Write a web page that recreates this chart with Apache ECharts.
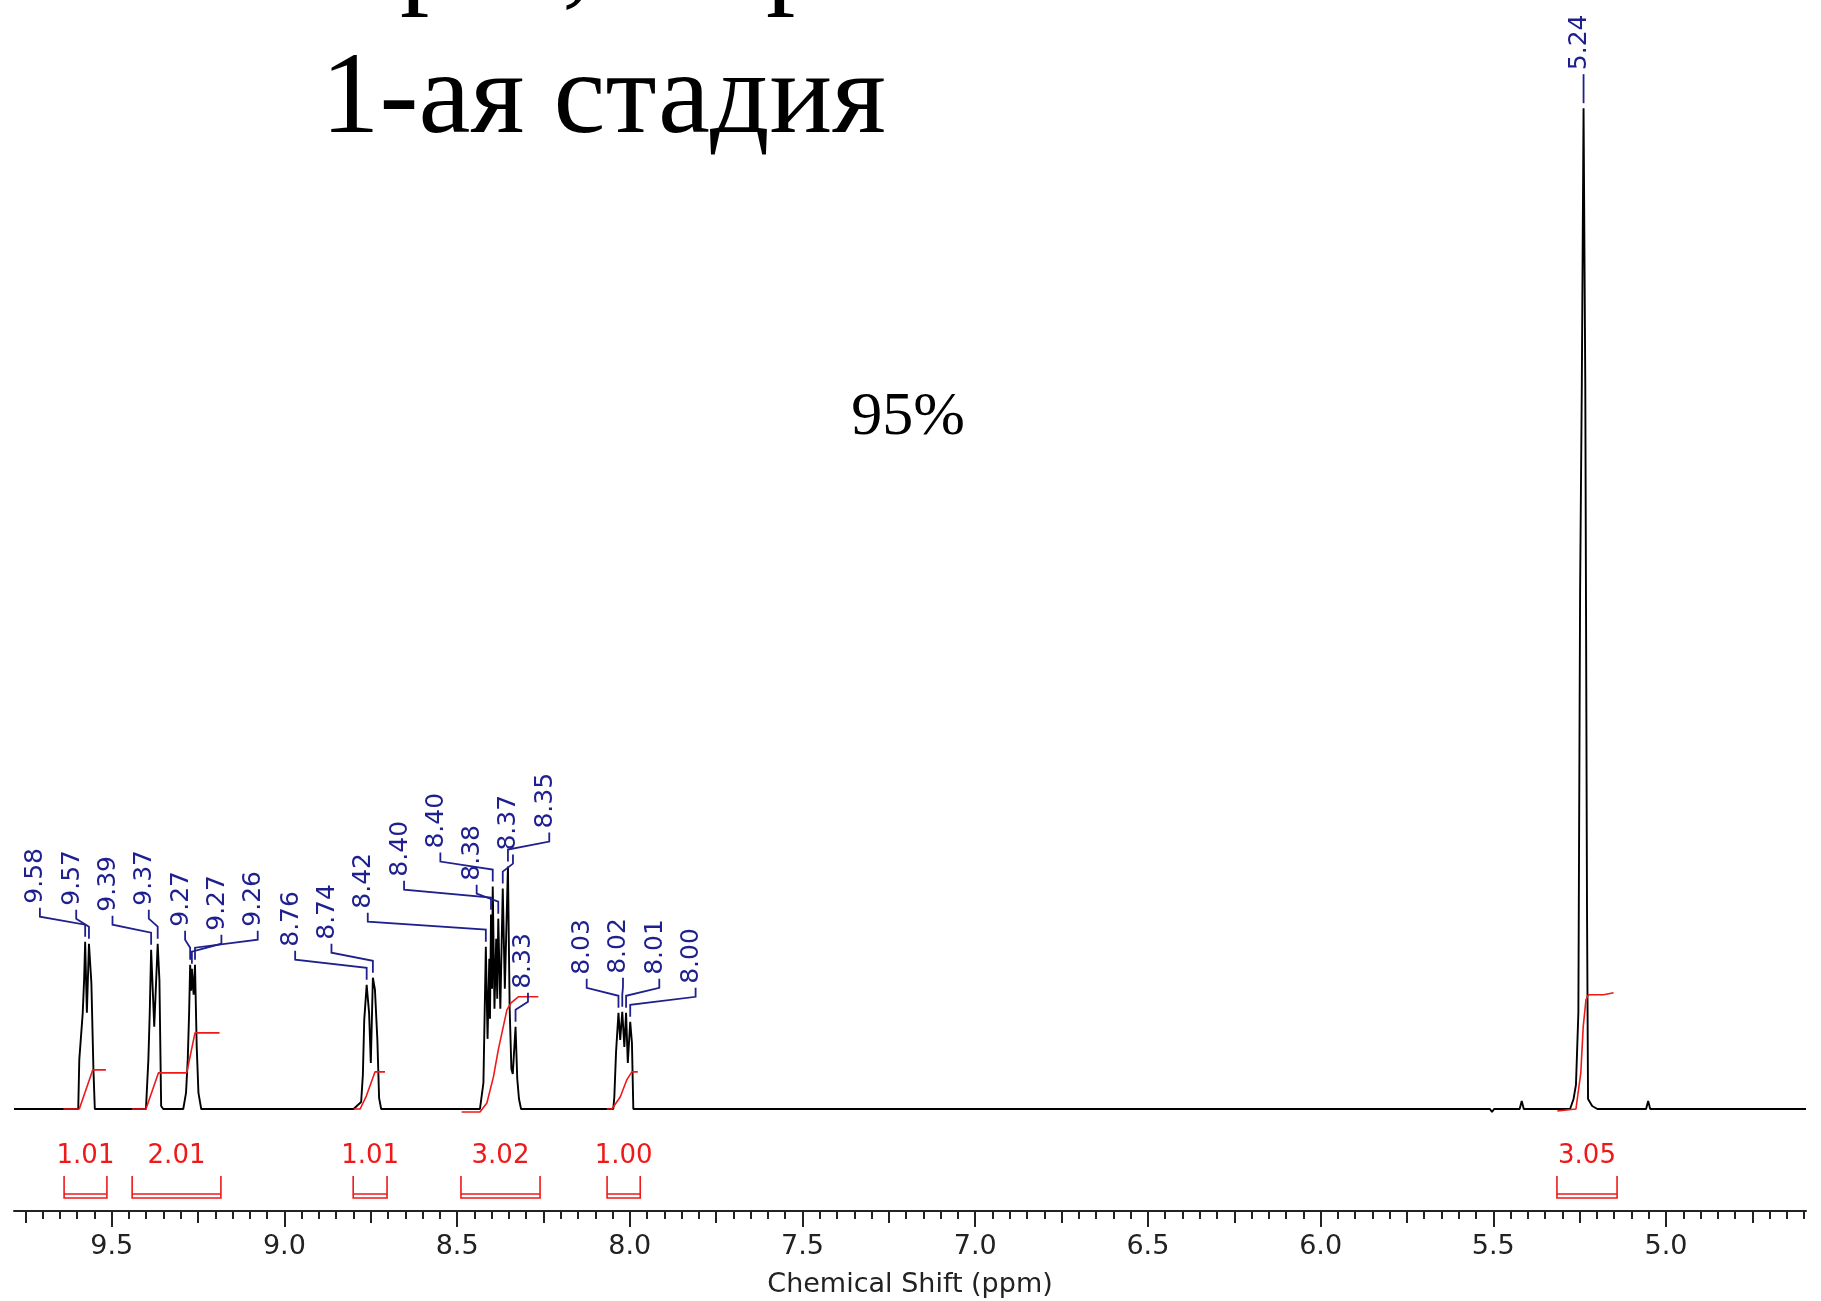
<!DOCTYPE html>
<html>
<head>
<meta charset="utf-8">
<title>1-ая стадия</title>
<script src="https://cdn.jsdelivr.net/npm/echarts@6/dist/echarts.min.js"></script>
<style>
  html, body { margin: 0; padding: 0; background: #fff; }
  #chart { width: 1821px; height: 1301px; }
</style>
</head>
<body>
<div id="chart"></div>
<script>
// 1H NMR trace, [ppm, intensity]
const baseline = [[9.783, 0], [4.595, 0]];
const m958 = [[9.597, 0], [9.594, 4.9], [9.584, 9.6], [9.580, 12.9], [9.577, 16.7], [9.572, 9.6],
  [9.566, 16.5], [9.559, 12.6], [9.553, 3.9], [9.549, 0]];
const m938 = [[9.401, 0], [9.394, 4.9], [9.390, 9.6], [9.386, 15.9], [9.377, 8.2], [9.367, 16.5],
  [9.362, 12.9], [9.357, 0.3], [9.351, 0]];
const m927 = [[9.293, 0], [9.285, 1.6], [9.280, 4.9], [9.276, 9.6], [9.273, 14.4], [9.270, 11.8],
  [9.268, 14.0], [9.263, 11.4], [9.259, 14.4], [9.254, 6.2], [9.249, 1.6], [9.241, 0]];
const m875 = [[8.800, 0], [8.778, 0.7], [8.773, 3.4], [8.769, 8.9], [8.762, 12.4], [8.755, 9.6],
  [8.750, 4.6], [8.744, 13.1], [8.738, 11.9], [8.731, 6.9], [8.726, 1.1], [8.720, 0]];
const m838 = [[8.434, 0], [8.424, 2.6], [8.417, 16.2], [8.412, 7], [8.407, 15], [8.405, 9],
  [8.402, 19.4], [8.399, 12], [8.397, 22.2], [8.392, 10], [8.387, 17], [8.384, 11], [8.381, 19.0],
  [8.375, 10], [8.368, 22.0], [8.362, 12], [8.353, 24.2], [8.348, 10], [8.343, 4], [8.339, 3.5],
  [8.331, 8.2], [8.326, 3], [8.321, 1], [8.315, 0]];
const m802 = [[8.048, 0], [8.045, 1.2], [8.040, 5.7], [8.033, 9.6], [8.028, 6.9], [8.022, 9.7],
  [8.016, 6.2], [8.011, 9.6], [8.006, 4.6], [7.999, 8.7], [7.994, 6.6], [7.990, 0]];
const m524 = [[5.278, 0], [5.268, 1.0], [5.261, 2.4], [5.254, 9.6], [5.249, 51.6], [5.244, 72.5],
  [5.239, 99.9], [5.234, 72.5], [5.229, 20], [5.226, 1.0], [5.214, 0.3], [5.199, 0]];
const bumps = [[5.510, 0], [5.504, -0.3], [5.498, 0], [5.424, 0], [5.418, 0.8], [5.412, 0],
  [5.058, 0], [5.052, 0.8], [5.046, 0]];

// integral curves (red), [ppm, level]
const intg1 = [[9.640, 0], [9.594, 0], [9.555, 3.9], [9.517, 3.9]];
const intg2 = [[9.442, 0], [9.401, 0], [9.365, 3.6], [9.283, 3.6], [9.259, 7.6], [9.188, 7.6]];
const intg3 = [[8.800, 0], [8.781, 0], [8.764, 1.2], [8.738, 3.7], [8.709, 3.7]];
const intg4 = [[8.487, -0.3], [8.434, -0.3], [8.414, 0.6], [8.395, 3.2], [8.381, 5.9], [8.356, 9.9],
  [8.344, 10.6], [8.323, 11.2], [8.265, 11.2]];
const intg5 = [[8.067, 0], [8.052, 0], [8.028, 1.2], [8.009, 2.9], [7.994, 3.7], [7.977, 3.7]];
const intg6 = [[5.315, -0.2], [5.261, 0], [5.247, 3.6], [5.240, 8.2], [5.232, 10.9], [5.225, 11.4],
  [5.181, 11.4], [5.152, 11.6]];

// integration ranges and their values
const integralFrom = [9.638, 9.441, 8.801, 8.489, 8.066, 5.316];
const integralTo = [9.514, 9.184, 8.703, 8.260, 7.970, 5.142];
const integralValue = [1.01, 2.01, 1.01, 3.02, 1.00, 3.05];

// picked peaks, one row of labels per group
const labelGroups = [
  [9.577, 9.566, 9.386, 9.367, 9.273, 9.268, 9.259],
  [8.762, 8.744, 8.417, 8.402, 8.397, 8.381, 8.368, 8.353],
  [8.331],
  [8.033, 8.022, 8.011, 7.999],
  [5.239]
];

// label layout: where each row starts (ppm) and label pitch (px)
const groupStart = [9.708, 8.969, 8.295, 8.125, 5.239];
const LABEL_STEP = 36.3;

const NAVY = '#1f1f8f';
const RED = '#f01818';
const FONT = '"DejaVu Sans"';

const spectrum = [].concat(baseline, m958, m938, m927, m875, m838, m802, m524, bumps)
  .sort((a, b) => b[0] - a[0]);

function peakHeight(ppm) {
  let best = spectrum[0];
  spectrum.forEach(p => {
    if (Math.abs(p[0] - ppm) < Math.abs(best[0] - ppm)) best = p;
  });
  return best[1];
}

const labelData = [];
labelGroups.forEach((g, gi) => g.forEach((ppm, i) => labelData.push([ppm, peakHeight(ppm), gi, i])));

const integralData = integralFrom.map((f, i) => [f, integralTo[i], integralValue[i]]);

const chart = echarts.init(document.getElementById('chart'), null, { renderer: 'canvas' });

const tickAxis = (grid, min, max, interval, len, labels) => ({
  gridIndex: grid, type: 'value', inverse: true, min: min, max: max, interval: interval,
  axisLine: { show: false },
  axisTick: { show: true, length: len, lineStyle: { color: '#222', width: 2 } },
  splitLine: { show: false },
  axisLabel: labels ? {
    show: true, margin: 22, color: '#222', fontFamily: FONT, fontSize: 27,
    formatter: v => v.toFixed(1)
  } : { show: false }
});

const serif = size => size + 'px "Liberation Serif"';

chart.setOption({
  backgroundColor: '#fff',
  animation: false,
  grid: [
    { left: 14, right: 15, top: 7, bottom: 182 },        // spectrum
    { left: 14, right: 15, top: 1100, bottom: 90 },      // axis line + name
    { left: 25.35, right: 16.84, top: 1100, bottom: 90 }, // 0.05 ticks
    { left: 25.35, right: 68.65, top: 1100, bottom: 90 }, // 0.25 ticks
    { left: 111.7, right: 155, top: 1100, bottom: 90 }    // 0.5 ticks + labels
  ],
  xAxis: [
    { gridIndex: 0, type: 'value', inverse: true, min: 4.595, max: 9.783, show: false },
    {
      gridIndex: 1, type: 'value', inverse: true, min: 4.595, max: 9.783,
      axisLine: { show: true, lineStyle: { color: '#222', width: 2 } },
      axisTick: { show: false }, axisLabel: { show: false }, splitLine: { show: false },
      name: 'Chemical Shift (ppm)', nameLocation: 'middle', nameGap: 60,
      nameTextStyle: { fontFamily: FONT, fontSize: 27, color: '#222' }
    },
    tickAxis(2, 4.6, 9.75, 0.05, 8, false),
    tickAxis(3, 4.75, 9.75, 0.25, 12, false),
    tickAxis(4, 5.0, 9.5, 0.5, 16, true)
  ],
  yAxis: [
    { gridIndex: 0, type: 'value', min: -1, max: 110, show: false },
    { gridIndex: 1, show: false }, { gridIndex: 2, show: false },
    { gridIndex: 3, show: false }, { gridIndex: 4, show: false }
  ],
  graphic: [
    // tails of the line above, cut by the top edge
    { type: 'text', x: 400, y: -39, style: { text: 'р', font: serif(117), fill: '#000', textVerticalAlign: 'middle' } },
    { type: 'text', x: 562, y: -39, style: { text: ',', font: serif(117), fill: '#000', textVerticalAlign: 'middle' } },
    { type: 'text', x: 766, y: -39, style: { text: 'р', font: serif(117), fill: '#000', textVerticalAlign: 'middle' } },
    { type: 'text', x: 321, y: 101, style: { text: '1-ая стадия', font: serif(117), fill: '#000', textVerticalAlign: 'middle' } },
    { type: 'text', x: 908, y: 418, style: { text: '95%', font: serif(62), fill: '#000', textAlign: 'center', textVerticalAlign: 'middle' } }
  ],
  series: [
    {
      type: 'line', xAxisIndex: 0, yAxisIndex: 0, data: spectrum,
      showSymbol: false, lineStyle: { color: '#000', width: 1.9 }, z: 3
    },
    ...[intg1, intg2, intg3, intg4, intg5, intg6].map(d => ({
      type: 'line', xAxisIndex: 0, yAxisIndex: 0, data: d,
      showSymbol: false, lineStyle: { color: RED, width: 1.6 }, z: 4
    })),
    {
      type: 'custom', xAxisIndex: 0, yAxisIndex: 0, clip: false, z: 5,
      dimensions: ['ppm', 'h', 'g', 'i'], encode: { x: 0, y: 1 },
      data: labelData,
      renderItem: (params, api) => {
        const ppm = api.value(0);
        const top = api.coord([ppm, api.value(1)]);
        const lx = api.coord([groupStart[api.value(2)], 0])[0] + api.value(3) * LABEL_STEP;
        const yb = top[1] - 38;
        return {
          type: 'group',
          children: [
            {
              type: 'polyline',
              shape: { points: [[lx, yb + 4], [lx, yb + 13], [top[0], yb + 21], [top[0], top[1] - 5]] },
              style: { stroke: NAVY, lineWidth: 1.8, fill: 'none' }
            },
            {
              type: 'text', x: lx - 4, y: yb, rotation: Math.PI / 2,
              style: { text: ppm.toFixed(2), font: '25px ' + FONT, fill: NAVY, textAlign: 'left', textVerticalAlign: 'middle' }
            }
          ]
        };
      }
    },
    {
      type: 'custom', xAxisIndex: 0, yAxisIndex: 0, clip: false, z: 5,
      dimensions: ['from', 'to', 'value'], encode: { x: [0, 1] },
      data: integralData,
      renderItem: (params, api) => {
        const p1 = api.coord([api.value(0), 0]);
        const p2 = api.coord([api.value(1), 0]);
        const base = p1[1];
        const yTop = base + 67, yBot = base + 89;
        return {
          type: 'group',
          children: [
            {
              type: 'polyline',
              shape: { points: [[p1[0], yTop], [p1[0], yBot], [p2[0], yBot], [p2[0], yTop]] },
              style: { stroke: RED, lineWidth: 1.6, fill: 'none' }
            },
            {
              type: 'line',
              shape: { x1: p1[0], y1: yBot - 4, x2: p2[0], y2: yBot - 4 },
              style: { stroke: RED, lineWidth: 1.4 }
            },
            {
              type: 'text', x: (p1[0] + p2[0]) / 2, y: base + 47,
              style: { text: api.value(2).toFixed(2), font: '26px ' + FONT, fill: RED, textAlign: 'center', textVerticalAlign: 'middle' }
            }
          ]
        };
      }
    }
  ]
});
</script>
</body>
</html>
